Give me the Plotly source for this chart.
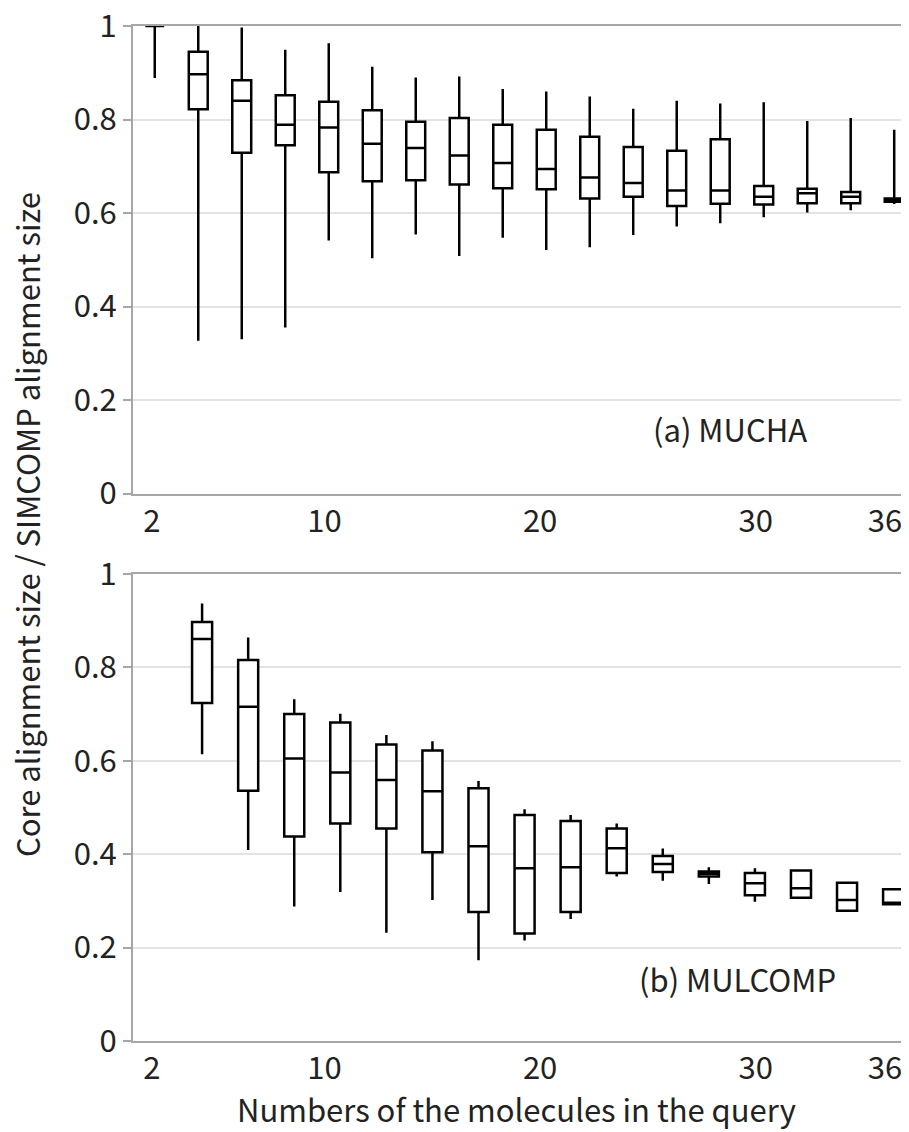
import plotly.graph_objects as go

# ---------------- data ----------------
# (a) MUCHA : query sizes 2..36
sizes_a = [2, 4, 6, 8, 10, 12, 14, 16, 18, 20, 22, 24, 26, 28, 30, 32, 34, 36]
mucha_min = [0.889, 0.327, 0.330, 0.355, 0.541, 0.503, 0.554, 0.508, 0.547,
             0.521, 0.527, 0.553, 0.571, 0.578, 0.591, 0.601, 0.606, 0.619]
mucha_q1 = [1.000, 0.822, 0.729, 0.745, 0.687, 0.668, 0.670, 0.661, 0.653,
            0.651, 0.631, 0.635, 0.615, 0.620, 0.618, 0.621, 0.621, 0.624]
mucha_med = [1.000, 0.897, 0.840, 0.789, 0.783, 0.748, 0.739, 0.723, 0.707,
             0.694, 0.676, 0.664, 0.648, 0.648, 0.635, 0.642, 0.635, 0.628]
mucha_q3 = [1.000, 0.945, 0.884, 0.852, 0.838, 0.820, 0.795, 0.803, 0.789,
            0.778, 0.763, 0.741, 0.733, 0.758, 0.658, 0.652, 0.645, 0.631]
mucha_max = [1.000, 1.000, 0.997, 0.949, 0.963, 0.913, 0.890, 0.892, 0.865,
             0.860, 0.849, 0.823, 0.840, 0.834, 0.837, 0.797, 0.803, 0.778]

# (b) MULCOMP : query sizes 4..34
sizes_b = [4, 6, 8, 10, 12, 14, 16, 18, 20, 22, 24, 26, 28, 30, 32, 34]
mulcomp_min = [0.614, 0.409, 0.288, 0.319, 0.232, 0.302, 0.173, 0.215,
               0.261, 0.352, 0.343, 0.336, 0.298, 0.307, 0.279, 0.293]
mulcomp_q1 = [0.724, 0.536, 0.438, 0.466, 0.455, 0.404, 0.276, 0.230,
              0.276, 0.360, 0.362, 0.352, 0.312, 0.307, 0.279, 0.293]
mulcomp_med = [0.861, 0.716, 0.605, 0.575, 0.559, 0.535, 0.417, 0.370,
               0.372, 0.413, 0.379, 0.358, 0.338, 0.327, 0.302, 0.296]
mulcomp_q3 = [0.897, 0.816, 0.700, 0.682, 0.635, 0.622, 0.541, 0.484,
              0.471, 0.455, 0.396, 0.363, 0.360, 0.365, 0.339, 0.325]
mulcomp_max = [0.937, 0.864, 0.732, 0.701, 0.655, 0.642, 0.557, 0.496,
               0.484, 0.466, 0.412, 0.372, 0.370, 0.365, 0.339, 0.325]

tick_vals = [2, 10, 20, 30, 36]
tick_text = ["2", "10", "20", "30", "36"]
y_tick_vals = [0, 0.2, 0.4, 0.6, 0.8, 1]
y_tick_text = ["0", "0.2", "0.4", "0.6", "0.8", "1"]
y_title = "Core alignment size / SIMCOMP alignment size"
x_title = "Numbers of the molecules in the query"

# ---------------- style ----------------
FONT = "Noto Sans CJK JP, Noto Sans, sans-serif"
FS = 31
TXT = "#222222"
AXC = "#a6a6a6"
GRID = "#e3e3e3"

OFF = 8                      # default page (body) margin of the html page
W, H = 909 - OFF, 1132 - OFF
L, R = 133 - OFF, 0
T = 26 - OFF
B = H - (1041 - OFF)
ph = H - T - B
pw = W - L - R

def yfrac(px):
    return (H - B - (px - OFF)) / ph

def xfrac(px):
    return ((px - OFF) - L) / pw

fig = go.Figure()

box_style = dict(line=dict(color="black", width=2.5), fillcolor="white",
                 whiskerwidth=0, boxpoints=False, showlegend=False,
                 hoverinfo="skip")

fig.add_trace(go.Box(x=sizes_a, q1=mucha_q1, median=mucha_med, q3=mucha_q3,
                     lowerfence=mucha_min, upperfence=mucha_max,
                     width=0.87, xaxis="x", yaxis="y", **box_style))
fig.add_trace(go.Box(x=sizes_b, q1=mulcomp_q1, median=mulcomp_med, q3=mulcomp_q3,
                     lowerfence=mulcomp_min, upperfence=mulcomp_max,
                     width=0.87, xaxis="x2", yaxis="y2", **box_style))
# empty traces so the label axes get drawn
fig.add_trace(go.Scatter(x=[None], y=[None], xaxis="x3", yaxis="y",
                         showlegend=False, hoverinfo="skip"))
fig.add_trace(go.Scatter(x=[None], y=[None], xaxis="x4", yaxis="y2",
                         showlegend=False, hoverinfo="skip"))

data_x = dict(showline=True, linecolor=AXC, linewidth=2, mirror=True,
              showgrid=False, zeroline=False, showticklabels=False, ticks="")
label_x = dict(showline=False, showgrid=False, zeroline=False, ticks="",
               tickvals=tick_vals, ticktext=tick_text, range=[1.12, 37.11],
               tickfont=dict(family=FONT, size=FS, color=TXT),
               ticklabelstandoff=6, ticklabeloverflow="allow")
data_y = dict(range=[0, 1], tickvals=y_tick_vals, ticktext=y_tick_text,
              showgrid=True, gridcolor=GRID,
              gridwidth=1.5, showline=True, linecolor=AXC, linewidth=2,
              zeroline=False, ticks="outside", ticklen=8, tickcolor=AXC,
              tickwidth=1.5, tickfont=dict(family=FONT, size=FS, color=TXT),
              ticklabelstandoff=0, ticklabeloverflow="allow")

fig.update_layout(
    width=W, height=H,
    margin=dict(l=L, r=R, t=T, b=B, autoexpand=False),
    paper_bgcolor="white", plot_bgcolor="white",
    xaxis=dict(domain=[0, 1], anchor="y", range=[1, 36.68], **data_x),
    yaxis=dict(domain=[yfrac(493.5), 1], anchor="x", **data_y),
    xaxis2=dict(domain=[0, 1], anchor="y2", range=[1, 34.69], **data_x),
    yaxis2=dict(domain=[0, yfrac(574)], anchor="x2", **data_y),
    xaxis3=dict(overlaying="x", anchor="y", side="bottom", **label_x),
    xaxis4=dict(overlaying="x2", anchor="y2", side="bottom", **label_x),
    annotations=[
        dict(text="(a) MUCHA", xref="paper", yref="paper", x=xfrac(730),
             y=yfrac(428), xanchor="center", yanchor="middle", showarrow=False,
             font=dict(family=FONT, size=FS, color=TXT)),
        dict(text="(b) MULCOMP", xref="paper", yref="paper", x=xfrac(737),
             y=yfrac(979), xanchor="center", yanchor="middle", showarrow=False,
             font=dict(family=FONT, size=FS, color=TXT)),
        dict(text=y_title, xref="paper", yref="paper", x=xfrac(26),
             y=yfrac(525), xanchor="center", yanchor="middle", textangle=-90,
             showarrow=False, borderpad=0,
             font=dict(family=FONT, size=FS, color=TXT)),
        dict(text=x_title, xref="paper", yref="paper", x=xfrac(516),
             y=yfrac(1108), xanchor="center", yanchor="middle",
             showarrow=False, font=dict(family=FONT, size=FS, color=TXT)),
    ],
)

fig.write_html("out.html")
